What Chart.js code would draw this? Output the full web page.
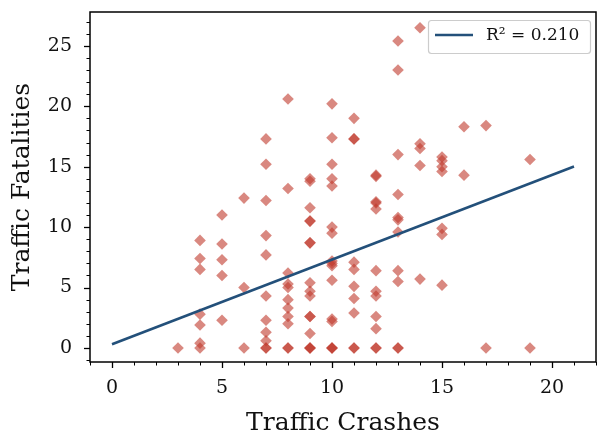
<!DOCTYPE html>
<html>
<head>
<meta charset="utf-8">
<script src="https://cdn.jsdelivr.net/npm/chart.js@4/dist/chart.umd.min.js"></script>
<style>
  html, body { margin: 0; padding: 0; background: #fff; }
  #wrap { width: 598px; height: 436px; }
</style>
</head>
<body>
<div id="wrap"><canvas id="c" width="598" height="436"></canvas></div>
<script>
// Crash counts and fatalities, one entry per observation
const crashes = [
  3,
  4,4,4,4,4,4,4,
  5,5,5,5,5,
  6,6,6,
  7,7,7,7,7,7,7,7,7,7,7,
  8,8,8,8,8,8,8,8,8,8,8,
  9,9,9,9,9,9,9,9,9,9,9,9,9,9,9,9,
  10,10,10,10,10,10,10,10,10,10,10,10,10,10,10,10,
  11,11,11,11,11,11,11,11,11,11,
  12,12,12,12,12,12,12,12,12,12,12,12,
  13,13,13,13,13,13,13,13,13,13,13,
  14,14,14,14,14,
  15,15,15,15,15,15,15,
  16,16,
  17,17,
  19,19
];
const fatalities = [
  0,
  8.9,7.4,6.5,2.8,1.9,0.4,0,
  11.0,8.6,7.3,6.0,2.3,
  12.4,5.0,0,
  17.3,15.2,12.2,9.3,7.7,4.3,2.3,1.3,0.6,0,0,
  20.6,13.2,6.2,5.3,5.0,4.0,3.3,2.6,2.0,0,0,
  14.0,13.8,11.6,10.5,10.5,8.7,8.7,5.4,4.7,4.3,2.6,2.6,1.2,0,0,0,
  20.2,17.4,15.2,14.0,13.4,10.0,9.5,7.2,7.0,6.8,5.6,2.4,2.2,0,0,0,
  19.0,17.3,17.3,7.1,6.5,5.1,4.1,2.9,0,0,
  14.3,14.2,12.1,12.0,11.5,6.4,4.7,4.3,2.6,1.6,0,0,
  25.4,23.0,16.0,12.7,10.8,10.6,9.6,6.4,5.5,0,0,
  26.5,16.9,16.5,15.1,5.7,
  15.8,15.5,15.0,14.6,9.9,9.4,5.2,
  18.3,14.3,
  18.4,0,
  15.6,0
];

// Least-squares fit drawn across the crash range
const fitX = [0, 21];
const fitIntercept = 0.31;
const fitSlope = 0.70;
const fitLabel = 'R\u00B2 = 0.210';

// Axis ticks
const xMajorTicks = [0, 5, 10, 15, 20];
const yMajorTicks = [0, 5, 10, 15, 20, 25];

const FONT = "'DejaVu Serif', serif";

const points = crashes.map((x, i) => ({ x: x, y: fatalities[i] }));
const fitPoints = fitX.map(x => ({ x: x, y: fitIntercept + fitSlope * x }));

function noScalePadding(s) {
  s.paddingLeft = 0; s.paddingRight = 0; s.paddingTop = 0; s.paddingBottom = 0;
}

// Frame, major/minor ticks and the in-plot legend
const framePlugin = {
  id: 'frame',
  afterDraw(chart) {
    const ctx = chart.ctx;
    const a = chart.chartArea;
    const xs = chart.scales.x, ys = chart.scales.y;
    ctx.save();
    ctx.strokeStyle = '#000';
    for (let v = Math.ceil(xs.min); v <= xs.max; v++) {
      const px = Math.round(xs.getPixelForValue(v)) + 0.5;
      const major = v % 5 === 0;
      ctx.lineWidth = major ? 1.3 : 1;
      ctx.beginPath();
      ctx.moveTo(px, a.bottom);
      ctx.lineTo(px, a.bottom + (major ? 6 : 3.5));
      ctx.stroke();
    }
    for (let v = Math.ceil(ys.min); v <= ys.max; v++) {
      const py = Math.round(ys.getPixelForValue(v)) + 0.5;
      const major = v % 5 === 0;
      ctx.lineWidth = major ? 1.3 : 1;
      ctx.beginPath();
      ctx.moveTo(a.left, py);
      ctx.lineTo(a.left - (major ? 6 : 3.5), py);
      ctx.stroke();
    }
    ctx.lineWidth = 1.5;
    ctx.strokeRect(a.left, a.top, a.right - a.left, a.bottom - a.top);

    // legend box, upper right
    const ds = chart.data.datasets[1];
    const bw = 162, bh = 33;
    const bx = a.right - bw - 6, by = a.top + 8;
    ctx.fillStyle = 'rgba(255,255,255,0.85)';
    ctx.strokeStyle = '#cccccc';
    ctx.lineWidth = 1.2;
    ctx.beginPath();
    ctx.roundRect(bx + 0.5, by + 0.5, bw, bh, 3);
    ctx.fill();
    ctx.stroke();
    ctx.strokeStyle = ds.borderColor;
    ctx.lineWidth = 2.6;
    ctx.beginPath();
    ctx.moveTo(bx + 7, by + 15);
    ctx.lineTo(bx + 45, by + 15);
    ctx.stroke();
    ctx.fillStyle = '#111';
    ctx.font = "17px " + FONT;
    ctx.textBaseline = 'middle';
    ctx.textAlign = 'left';
    ctx.fillText(ds.label, bx + 58, by + 16);
    ctx.restore();
  }
};

new Chart(document.getElementById('c'), {
  type: 'scatter',
  data: {
    datasets: [
      {
        type: 'scatter',
        label: 'Observations',
        data: points,
        pointStyle: 'rectRot',
        pointRadius: 5.8,
        pointHoverRadius: 5.8,
        backgroundColor: 'rgba(192,57,43,0.6)',
        borderWidth: 0,
        order: 2
      },
      {
        type: 'line',
        label: fitLabel,
        data: fitPoints,
        borderColor: '#23507a',
        borderWidth: 2.6,
        pointRadius: 0,
        fill: false,
        order: 1
      }
    ]
  },
  options: {
    responsive: false,
    animation: false,
    events: [],
    layout: { autoPadding: false, padding: { left: 0, right: 2, top: 12, bottom: 0 } },
    plugins: {
      legend: { display: false },
      tooltip: { enabled: false }
    },
    scales: {
      x: {
        type: 'linear',
        min: -1,
        max: 22,
        afterBuildTicks(s) { s.ticks = xMajorTicks.map(v => ({ value: v })); },
        afterFit(s) { s.height = 74; noScalePadding(s); },
        grid: { display: false, drawTicks: false },
        border: { display: false },
        ticks: {
          color: '#111',
          padding: 15,
          font: { family: FONT, size: 19 },
          maxRotation: 0
        },
        title: {
          display: true,
          text: 'Traffic Crashes',
          color: '#111',
          font: { family: FONT, size: 25, lineHeight: 1.0 },
          padding: { top: 0, bottom: 0 }
        }
      },
      y: {
        type: 'linear',
        min: -1.16,
        max: 27.8,
        afterBuildTicks(s) { s.ticks = yMajorTicks.map(v => ({ value: v })); },
        afterFit(s) { s.width = 90; noScalePadding(s); },
        grid: { display: false, drawTicks: false },
        border: { display: false },
        ticks: {
          color: '#111',
          padding: 18,
          font: { family: FONT, size: 19 }
        },
        title: {
          display: true,
          text: 'Traffic Fatalities',
          color: '#111',
          font: { family: FONT, size: 25 },
          padding: { top: 7, bottom: 0 }
        }
      }
    }
  },
  plugins: [framePlugin]
});
</script>
</body>
</html>
